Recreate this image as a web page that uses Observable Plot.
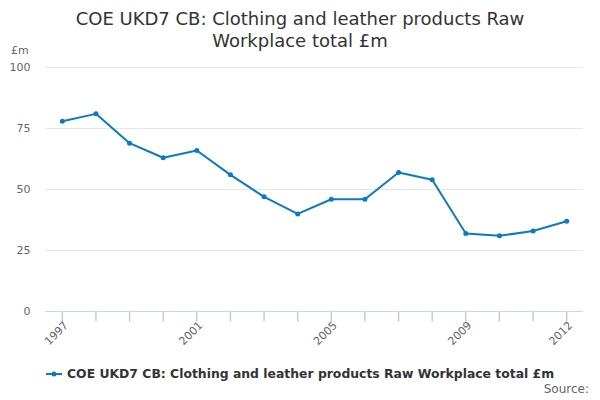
<!DOCTYPE html>
<html>
<head>
<meta charset="utf-8">
<script src="https://cdn.jsdelivr.net/npm/d3@7"></script>
<script src="https://cdn.jsdelivr.net/npm/@observablehq/plot@0.6"></script>
<style>
  body { margin: 0; background: #fff; font-family: "DejaVu Sans", sans-serif; }
  #wrap { position: relative; width: 600px; height: 400px; overflow: hidden; }
  #title { position: absolute; left: 0; top: 8px; width: 600px; text-align: center; font-size: 18px; line-height: 22px; color: #333; }
  #unit { position: absolute; left: 11px; top: 44px; font-size: 11px; color: #666; }
  #legend { position: absolute; left: 46px; top: 366px; font-size: 12.4px; font-weight: bold; color: #333; display: flex; align-items: center; }
  #legend svg { margin-right: 5px; }
  #source { position: absolute; right: 11px; top: 382px; font-size: 12px; color: #666; }
  #chart { position: absolute; left: 0; top: 0; }
</style>
</head>
<body>
<div id="wrap">
  <div id="chart"></div>
  <div id="title">COE UKD7 CB: Clothing and leather products Raw<br>Workplace total £m</div>
  <div id="unit">£m</div>
  <div id="legend"><svg width="16" height="10"><line x1="0" y1="5" x2="16" y2="5" stroke="#0a7bc2" stroke-width="2"/><circle cx="8" cy="5" r="2.5" fill="#0a7bc2"/></svg>COE UKD7 CB: Clothing and leather products Raw Workplace total £m</div>
  <div id="source">Source:</div>
</div>
<script>
const years = [1997, 1998, 1999, 2000, 2001, 2002, 2003, 2004, 2005, 2006, 2007, 2008, 2009, 2010, 2011, 2012];
const values = [78, 81, 69, 63, 66, 56, 47, 40, 46, 46, 57, 54, 32, 31, 33, 37];
const labelYears = [1997, 2001, 2005, 2009, 2012];
const yTicks = [0, 25, 50, 75, 100];
const seriesName = "COE UKD7 CB: Clothing and leather products Raw Workplace total £m";

const data = years.map((y, i) => ({year: y, value: values[i]}));
const color = "#0a7bc2";

const chart = Plot.plot({
  width: 600,
  height: 350,
  marginTop: 67,
  marginBottom: 39,
  marginLeft: 45,
  marginRight: 17,
  style: {fontFamily: "DejaVu Sans, sans-serif", fontSize: "11px", color: "#666", background: "transparent", overflow: "visible"},
  x: {domain: [1996.5, 2012.5], axis: null},
  y: {domain: [0, 100]},
  marks: [
    Plot.gridY(yTicks, {stroke: "#e6e6e6", strokeOpacity: 1}),
    Plot.axisY(yTicks, {tickSize: 0, tickPadding: 15, fill: "#666", label: null}),
    Plot.link(years, {x1: d => d, x2: d => d, y1: d => 0, y2: d => -4.1, stroke: "#b4c4e4", strokeWidth: 1.3}),
    Plot.ruleY([0], {stroke: "#ccd6eb"}),
    Plot.text(labelYears, {x: d => d, frameAnchor: "bottom", text: d => String(d), rotate: -45, textAnchor: "end", lineAnchor: "middle", dx: 4, dy: 12, fill: "#666", fontSize: 11}),
    Plot.line(data, {x: "year", y: "value", stroke: color, strokeWidth: 2}),
    Plot.dot(data, {x: "year", y: "value", fill: color, r: 2.5})
  ]
});
document.getElementById("chart").appendChild(chart);
</script>
</body>
</html>
